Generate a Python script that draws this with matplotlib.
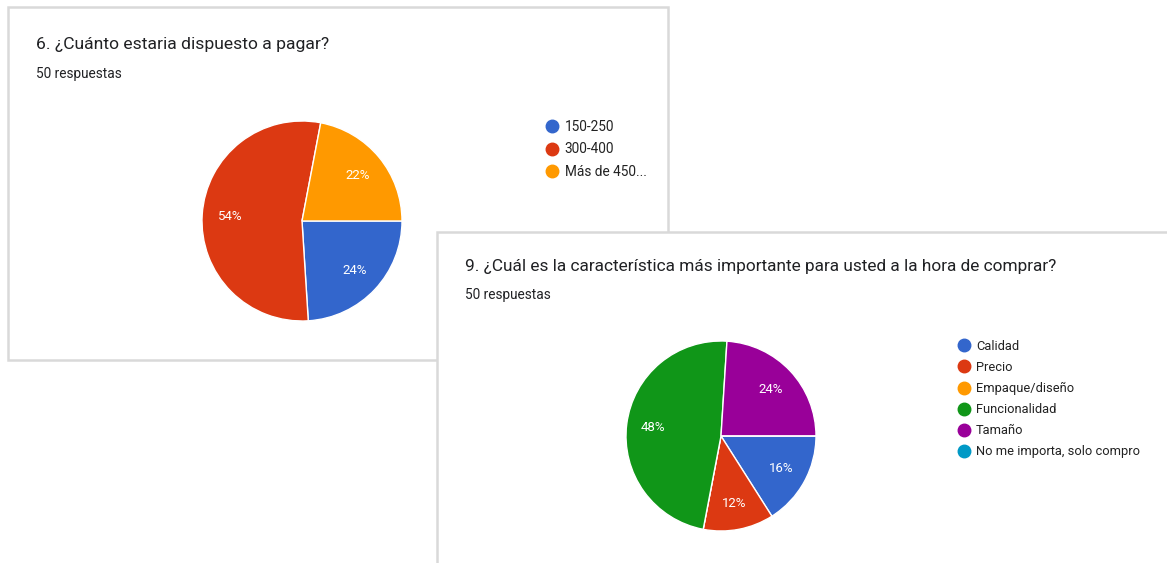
import matplotlib
matplotlib.use("Agg")
import matplotlib.pyplot as plt
from matplotlib.patches import Rectangle
from matplotlib.lines import Line2D

plt.rcParams['font.family'] = ['Roboto', 'DejaVu Sans']

# chart 6
title1 = "6. ¿Cuánto estaria dispuesto a pagar?"
cats1 = ['150-250', '300-400', 'Más de 450...']
vals1 = [24, 54, 22]
colors1 = ['#3366cc', '#dc3912', '#ff9900']

# chart 9
title2 = "9. ¿Cuál es la característica más importante para usted a la hora de comprar?"
cats2 = ['Calidad', 'Precio', 'Empaque/diseño', 'Funcionalidad', 'Tamaño',
         'No me importa, solo compro']
vals2 = [16, 12, 0, 48, 24, 0]
colors2 = ['#3366cc', '#dc3912', '#ff9900', '#109618', '#990099', '#0099c6']

subtitle = "50 respuestas"

W, H = 1167, 563
fig = plt.figure(figsize=(W / 100, H / 100), dpi=100)
fig.patch.set_facecolor('white')

# background axes in pixel coords
ax0 = fig.add_axes([0, 0, 1, 1])
ax0.set_xlim(0, W)
ax0.set_ylim(H, 0)
ax0.axis('off')

border = '#d9d9d9'
ax0.add_patch(Rectangle((8, 7), 660, 353, facecolor='white', edgecolor=border, lw=1.8, zorder=1))
ax0.add_patch(Rectangle((437, 232), 760, 360, facecolor='white', edgecolor=border, lw=1.8, zorder=2))

ax0.text(36, 44, title1, fontsize=12.6, color='#202124', va='center', zorder=3)
ax0.text(36, 74, subtitle, fontsize=9.8, color='#202124', va='center', zorder=3)
ax0.text(465, 266, title2, fontsize=12.4, color='#202124', va='center', zorder=3)
ax0.text(465, 295, subtitle, fontsize=9.8, color='#202124', va='center', zorder=3)


def pct(p):
    return '' if p < 0.5 else '%d%%' % round(p)


def draw_pie(cx, cy, r, vals, colors):
    ax = fig.add_axes([(cx - r) / W, (H - cy - r) / H, 2 * r / W, 2 * r / H])
    ax.pie(vals, colors=colors, startangle=0, counterclock=False,
           autopct=pct, pctdistance=0.72,
           wedgeprops=dict(edgecolor='white', linewidth=1),
           textprops=dict(color='white', fontsize=9.5))
    ax.set_xlim(-1, 1)
    ax.set_ylim(-1, 1)
    ax.set_aspect('equal')
    ax.axis('off')
    return ax


draw_pie(302, 221, 100, vals1, colors1)
draw_pie(721, 436, 95, vals2, colors2)


def draw_legend(x, y, cats, colors, fs):
    handles = [Line2D([], [], marker='o', ls='', markersize=9, color=c) for c in colors]
    leg = ax0.legend(handles, cats, loc='upper left', bbox_to_anchor=(x, y),
                     bbox_transform=ax0.transData, frameon=False, fontsize=fs,
                     borderpad=0, borderaxespad=0, handlelength=0.8,
                     handletextpad=0.5, labelspacing=0.62)
    for t in leg.get_texts():
        t.set_color('#222222')
    leg.set_zorder(5)
    return leg


leg1 = draw_legend(547, 120, cats1, colors1, 9.8)
ax0.add_artist(leg1)
draw_legend(959, 340, cats2, colors2, 9.3)

fig.savefig('out.png', dpi=100, facecolor='white')
